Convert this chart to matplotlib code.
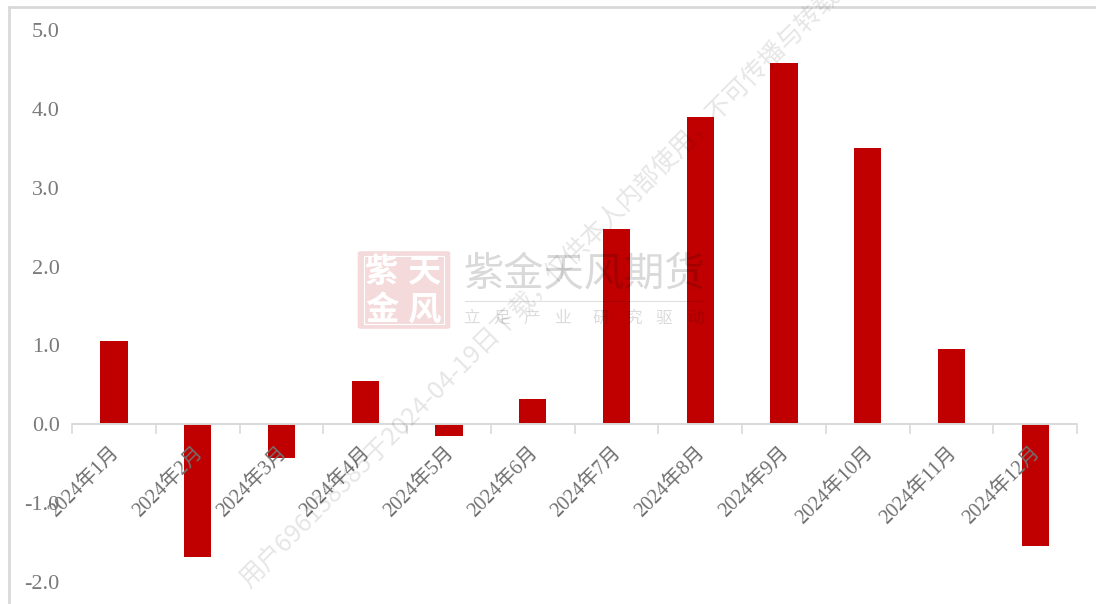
import matplotlib
matplotlib.use("Agg")
import matplotlib.pyplot as plt
from matplotlib.lines import Line2D
from matplotlib.patches import FancyBboxPatch, Rectangle

months = ["2024年1月", "2024年2月", "2024年3月", "2024年4月", "2024年5月", "2024年6月",
          "2024年7月", "2024年8月", "2024年9月", "2024年10月", "2024年11月", "2024年12月"]
values = [1.05, -1.68, -0.43, 0.55, -0.15, 0.32, 2.48, 3.90, 4.58, 3.50, 0.95, -1.54]
y_ticks = [-2.0, -1.0, 0.0, 1.0, 2.0, 3.0, 4.0, 5.0]

W, H = 1096, 604
SERIF = ["Liberation Serif", "Noto Sans CJK SC", "DejaVu Sans"]
LABEL = ["Liberation Serif", "Noto Sans CJK SC"]

def fx(px):
    return px / W

def fy(py):
    return 1 - py / H

fig = plt.figure(figsize=(W / 100, H / 100), dpi=100, facecolor="white")
ax = fig.add_axes([fx(72.2), fy(582), fx(1077.2) - fx(72.2), fy(30) - fy(582)])
ax.patch.set_alpha(0)

# Bars and zero axis
ax.bar(range(len(values)), values, width=0.325, color="#C00000", zorder=2)
ax.set_xlim(-0.5, len(values) - 0.5)
ax.set_ylim(-2, 5)
for side in ("top", "right", "left", "bottom"):
    ax.spines[side].set_visible(False)
ax.axhline(0, color="#D9D9D9", lw=1.4, zorder=3)
for i in range(len(values) + 1):
    ax.plot([i - 0.5, i - 0.5], [0, -0.105], color="#D9D9D9", lw=1.2, zorder=3, clip_on=False)

ax.set_yticks(y_ticks)
ax.set_yticklabels([f"{v:.1f}" for v in y_ticks],
                   fontfamily=SERIF, fontsize=16, color="#7A7A7A")
ax.tick_params(axis="y", length=0, pad=9)
ax.set_xticks([])

# Slanted month labels, anchored at their upper right end
for i, m in enumerate(months):
    ax.annotate(m, xy=(i, 0), xytext=(-3, -14), textcoords="offset points",
                rotation=45, rotation_mode="anchor", ha="right", va="top",
                fontfamily=LABEL, fontsize=14.5, color="#707070", zorder=4,
                annotation_clip=False)

# Outer frame, open on the right and bottom
fig.add_artist(Line2D([fx(9), fx(9)], [fy(7), 0], color="#D9D9D9", lw=2))
fig.add_artist(Line2D([fx(9), 1], [fy(7), fy(7)], color="#D9D9D9", lw=2))

# Diagonal notice across the plot
fig.text(fx(254), fy(593), "用户696138385于2024-04-19日下载，仅供本人内部使用，不可传播与转载",
         rotation=45, rotation_mode="anchor", ha="left", va="bottom",
         fontfamily=["Noto Sans CJK SC", "DejaVu Sans"], fontsize=18.2,
         color="#000000", alpha=0.10, zorder=5)

# Company seal
seal = FancyBboxPatch((fx(361), fy(327)), fx(86), fy(253) - fy(327),
                      boxstyle="round,pad=0.003", transform=fig.transFigure,
                      facecolor="#F4DADA", edgecolor="none", zorder=1)
fig.add_artist(seal)
fig.add_artist(Rectangle((fx(364), fy(324)), fx(80), fy(256) - fy(324),
                         transform=fig.transFigure, facecolor="none",
                         edgecolor="white", lw=0.8, zorder=2))
for ch, px, py in [("紫", 382, 272), ("天", 424, 272), ("金", 382, 310), ("风", 424, 310)]:
    fig.text(fx(px), fy(py), ch, ha="center", va="center", color="white",
             fontfamily="Noto Sans CJK SC", fontweight="bold", fontsize=24, zorder=3)

# Company name and slogan
fig.text(fx(584), fy(274), "紫金天风期货", ha="center", va="center",
         fontfamily="Noto Sans CJK SC", fontsize=29, fontweight="medium",
         color="#000000", alpha=0.15, zorder=5)
fig.add_artist(Line2D([fx(465), fx(702)], [fy(301), fy(301)], color="#000000",
                      alpha=0.12, lw=0.8, zorder=5))
for ch, px in zip("立足产业研究驱动", [471, 502, 532, 563, 601, 633, 664, 695]):
    fig.text(fx(px), fy(318), ch, ha="center", va="center",
             fontfamily="Noto Sans CJK SC", fontsize=12, color="#000000",
             alpha=0.14, zorder=5)

fig.savefig("out.png", dpi=100, facecolor="white")
